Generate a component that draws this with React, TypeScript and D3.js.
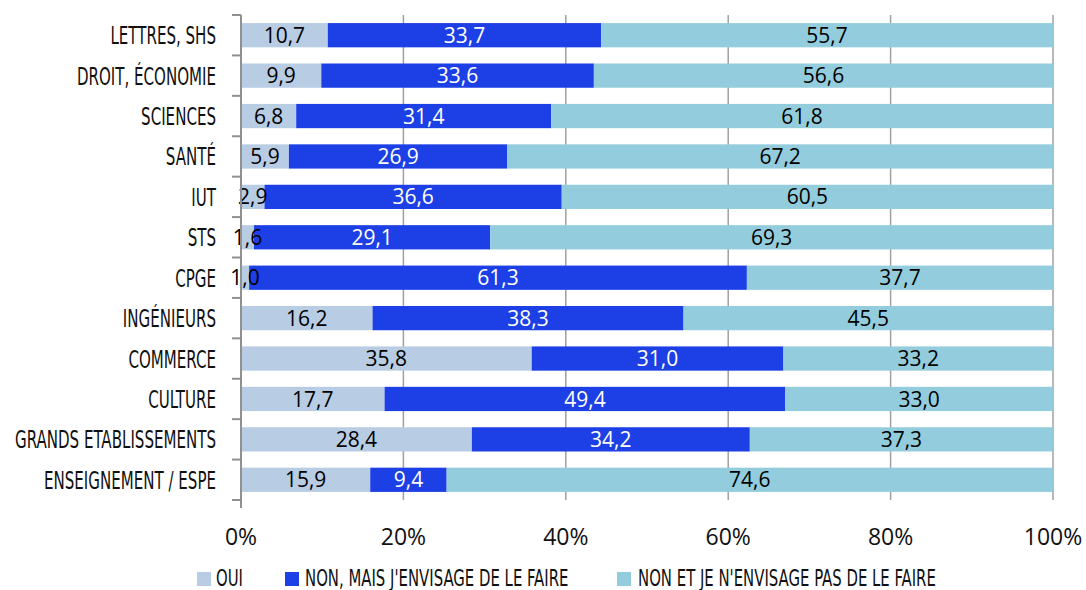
import React from "react";
import * as d3 from "d3";

const categories = [
  "LETTRES, SHS",
  "DROIT, ÉCONOMIE",
  "SCIENCES",
  "SANTÉ",
  "IUT",
  "STS",
  "CPGE",
  "INGÉNIEURS",
  "COMMERCE",
  "CULTURE",
  "GRANDS ETABLISSEMENTS",
  "ENSEIGNEMENT / ESPE",
];
const oui = [10.7, 9.9, 6.8, 5.9, 2.9, 1.6, 1.0, 16.2, 35.8, 17.7, 28.4, 15.9];
const nonMais = [33.7, 33.6, 31.4, 26.9, 36.6, 29.1, 61.3, 38.3, 31.0, 49.4, 34.2, 9.4];
const nonEt = [55.7, 56.6, 61.8, 67.2, 60.5, 69.3, 37.7, 45.5, 33.2, 33.0, 37.3, 74.6];
const seriesNames = ["OUI", "NON, MAIS J'ENVISAGE DE LE FAIRE", "NON ET JE N'ENVISAGE PAS DE LE FAIRE"];
const colors = ["#b8cce4", "#1c3fe6", "#93cddd"];
const labelColors = ["#000000", "#ffffff", "#000000"];
const xTicks = [0, 0.2, 0.4, 0.6, 0.8, 1];

const condFont = "'Liberation Sans Narrow', 'DejaVu Sans Condensed', 'Arial Narrow', sans-serif";
const numFont = "'Open Sans', 'DejaVu Sans', sans-serif";
const fmt = (v: number) => v.toFixed(1).replace(".", ",");

export default function App() {
  const width = 1086;
  const height = 590;
  const x0 = 241, x1 = 1053, yTop = 15, yBot = 500;
  const x = d3.scaleLinear().domain([0, 1]).range([x0, x1]);
  const y = d3.scaleBand().domain(categories).range([yTop, yBot]).paddingInner(0.4).paddingOuter(0.2);

  const rows = categories.map((c, i) => {
    const vals = [oui[i], nonMais[i], nonEt[i]];
    const total = d3.sum(vals);
    let acc = 0;
    return vals.map((v, s) => {
      const start = acc / total;
      acc += v;
      return { cat: c, s, v, start, end: acc / total };
    });
  });

  const boundaries = d3.range(categories.length + 1).map((i) => yTop + (i * (yBot - yTop)) / categories.length);
  const legendItems = [
    { sx: 197, tx: 216 },
    { sx: 285, tx: 305 },
    { sx: 617, tx: 638 },
  ];

  return (
    <svg width={width} height={height} style={{ position: "absolute", left: 0, top: 0, background: "#fff" }}>
      {/* gridlines */}
      {xTicks.slice(1).map((t) => (
        <line key={t} x1={x(t)} x2={x(t)} y1={yTop} y2={yBot} stroke="#a0a0a0" strokeWidth={1.5} />
      ))}
      {/* bars */}
      {rows.map((segs) =>
        segs.map((d) => (
          <rect
            key={d.cat + d.s}
            x={x(d.start)}
            y={y(d.cat)!}
            width={x(d.end) - x(d.start)}
            height={y.bandwidth()}
            fill={colors[d.s]}
          />
        ))
      )}
      {/* data labels */}
      {rows.map((segs) =>
        segs.map((d) => (
          <text
            key={"l" + d.cat + d.s}
            x={(x(d.start) + x(d.end)) / 2}
            y={y(d.cat)! + y.bandwidth() / 2}
            dy="0.36em"
            textAnchor="middle"
            fontFamily={numFont}
            fontSize={21}
            fill={labelColors[d.s]}
          >
            {fmt(d.v)}
          </text>
        ))
      )}
      {/* y axis */}
      <line x1={x0} x2={x0} y1={yTop} y2={yBot + 8} stroke="#909090" strokeWidth={2} />
      {boundaries.map((b, i) => (
        <line key={"t" + i} x1={x0 - 9} x2={x0} y1={b} y2={b} stroke="#909090" strokeWidth={2} />
      ))}
      {/* category labels */}
      {categories.map((c) => (
        <text
          key={"c" + c}
          transform={`translate(216,${y(c)! + y.bandwidth() / 2}) scale(0.67,1)`}
          dy="0.36em"
          textAnchor="end"
          fontFamily={condFont}
          fontSize={25}
          fill="#111"
        >
          {c}
        </text>
      ))}
      {/* x tick labels */}
      {xTicks.map((t) => (
        <text
          key={"x" + t}
          x={x(t)}
          y={537}
          dy="0.36em"
          textAnchor="middle"
          fontFamily={numFont}
          fontSize={23}
          fill="#111"
        >
          {d3.format(".0%")(t)}
        </text>
      ))}
      {/* legend */}
      {seriesNames.map((n, i) => (
        <g key={"lg" + i}>
          <rect x={legendItems[i].sx} y={572} width={14} height={14} fill={colors[i]} />
          <text
            transform={`translate(${legendItems[i].tx},586) scale(0.72,1)`}
            fontFamily={condFont}
            fontSize={23}
            fill="#111"
          >
            {n}
          </text>
        </g>
      ))}
    </svg>
  );
}
